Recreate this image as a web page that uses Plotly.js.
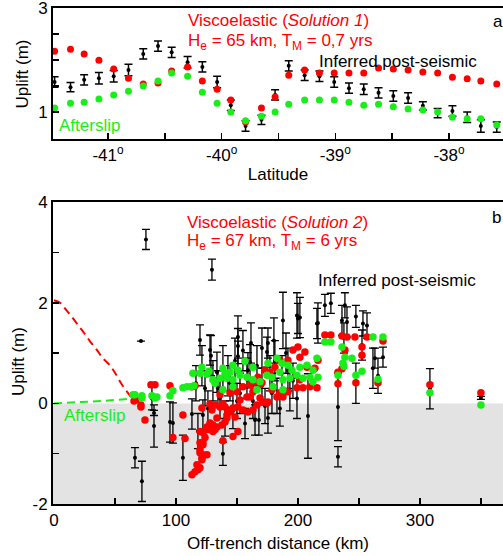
<!DOCTYPE html>
<html>
<head>
<meta charset="utf-8">
<script src="https://cdn.plot.ly/plotly-3.0.1.min.js"></script>
<style>
  html, body { margin: 0; padding: 0; background: #fff; }
  #chart { width: 503px; height: 556px; }
</style>
</head>
<body>
<div id="chart"></div>
<script>
// ---- Panel a: uplift along the coast versus latitude ----
const latitude = [-41.47,-41.33,-41.21,-41.08,-40.95,-40.82,-40.69,-40.56,-40.44,-40.30,-40.17,-40.04,-39.92,-39.79,-39.65,-39.53,-39.41,-39.27,-39.14,-39.01,-38.88,-38.75,-38.62,-38.49,-38.36,-38.23,-38.10,-37.97,-37.84,-37.72,-37.58];
const viscoA    = [2.17,2.21,2.12,2.00,1.83,1.65,1.54,1.56,1.79,1.87,1.60,1.44,1.23,0.81,1.08,1.29,1.71,1.81,1.75,1.75,1.75,1.75,1.85,1.83,1.81,1.77,1.75,1.67,1.64,1.60,1.54];
const observedA = [1.58,1.48,1.62,1.65,1.69,1.81,2.12,2.27,2.15,1.96,1.87,1.58,1.13,0.73,0.85,1.33,1.89,1.71,1.69,1.58,1.46,1.44,1.37,1.31,1.27,1.12,0.98,1.02,0.90,0.73,0.71];
const errA      = [0.10,0.09,0.10,0.11,0.11,0.11,0.10,0.10,0.10,0.11,0.10,0.11,0.10,0.10,0.09,0.10,0.10,0.10,0.10,0.10,0.10,0.10,0.10,0.10,0.10,0.08,0.09,0.10,0.10,0.12,0.10];
const afterslipA= [1.08,1.17,1.19,1.25,1.33,1.40,1.50,1.60,1.75,1.69,1.38,1.17,1.00,0.83,0.92,1.00,1.15,1.23,1.23,1.23,1.19,1.13,1.15,1.10,1.06,1.04,1.00,0.90,0.87,0.87,0.75];
const latTickVals = [-41,-40,-39,-38];
const latTickText = ['-41<sup>o</sup>','-40<sup>o</sup>','-39<sup>o</sup>','-38<sup>o</sup>'];
const upliftTickValsA = [1,3];
const upliftTickTextA = ['1','3'];

// ---- Panel b: uplift versus off-trench distance ----
const obsDist = [75.4,129.5,71.3,66.4,72.1,82.0,82.0,80.3,95.1,97.5,105.7,113.1,138.5,208.2,232.8,232.8,247.5,261.5,263.1,269.7,265.6,308.2,350.0,
  187.7,216.4,222.1,227.0,236.1,238.5,240.2,237.7,247.5,253.3,256.6,252.5,201.6,200.0,
  150.8,150.8,150.8,127.9,175.4,174.6,199.2,215.6,119.7,133.6,160.7,159.0,
  123.8,126.2,130.3,136.1,140.2,142.6,146.7,148.4,152.5,156.6,158.2,163.1,164.8,166.4,168.0,170.5,173.0,175.4,177.0,178.7,181.1,182.8,185.2,186.9,191.8,193.4,195.9,199.2,122.1,116.4,118.0,121.3,128.7,134.4,138.5,144.3,150.0,154.9,161.5,170.5,180.3,190.2];
const obsUplift = [3.26,2.66,1.24,-1.08,-1.55,-0.45,-0.19,0.10,-0.37,-0.39,-1.08,-0.21,-1.00,-0.25,-0.07,-1.06,0.40,0.70,0.90,0.92,0.55,0.29,0.11,
  1.65,1.60,1.95,1.99,1.65,1.95,1.62,1.30,1.73,1.59,1.55,1.16,1.71,1.69,
  1.32,1.14,0.94,1.06,1.20,1.02,1.75,1.59,1.26,0.62,0.82,0.66,
  0.30,-0.10,0.45,0.10,-0.30,0.55,-0.15,0.85,0.20,-0.40,0.50,0.05,-0.33,0.75,-0.33,0.35,-0.05,-0.29,0.60,0.20,0.85,0.15,-0.10,0.60,0.70,0.25,0.45,0.10,-0.23,0.40,-0.55,0.75,0.95,0.30,0.70,0.40,0.05,1.05,1.20,1.10,1.25,1.00];
const obsErr = [0.20,0.21,0.00,0.20,0.40,0.42,0.05,0.23,0.40,0.40,0.45,0.30,0.23,0.84,0.67,0.20,0.40,0.40,0.20,0.20,0.35,0.40,0.03,
  0.56,0.40,0.22,0.20,0.30,0.25,0.30,0.30,0.22,0.25,0.25,0.30,0.40,0.30,
  0.42,0.35,0.30,0.30,0.30,0.30,0.45,0.30,0.30,0.40,0.35,0.35,
  0.35,0.35,0.40,0.40,0.35,0.40,0.35,0.45,0.40,0.30,0.40,0.35,0.30,0.40,0.30,0.35,0.35,0.30,0.35,0.40,0.40,0.35,0.35,0.35,0.40,0.40,0.35,0.40,0.30,0.35,0.35,0.40,0.40,0.35,0.45,0.35,0.35,0.40,0.40,0.40,0.45,0.40];

const viscoDist = [79.5,82.8,95.1,65.6,67.2,71.3,71.3,74.6,97.5,107.4,113.1,115.6,127.9,121.3,
  113.1,115.6,118.0,117.2,121.3,119.7,122.1,125.4,119.7,122.1,119.7,122.1,126.2,129.5,132.0,133.6,137.7,140.2,141.8,140.2,144.3,136.1,132.0,129.5,138.5,105.7,
  138.5,142.6,146.7,150.8,154.9,159.0,163.1,148.4,141.8,133.6,130.3,127.9,125.4,130.3,126.2,123.8,122.1,119.7,121.3,119.7,146.7,150.8,171.3,175.4,166.4,152.5,158.2,163.1,168.9,
  195.9,200.0,201.6,205.7,191.8,185.2,181.1,177.0,173.0,167.2,170.5,164.8,160.7,154.9,178.7,185.2,191.8,199.2,204.1,209.8,215.6,201.6,207.4,213.9,216.4,150.0,144.3,136.1,160.7,168.9,174.6,182.8,187.7,
  222.1,227.0,236.1,240.2,246.7,256.6,269.7,238.5,252.5,252.5,236.1,232.8,232.8,247.5,265.6,308.2,350.0];
const viscoB = [0.37,0.37,0.35,0.05,0.07,-0.03,-0.07,-0.33,-0.68,-0.70,0.33,0.35,-0.01,-0.09,
  -1.42,-1.36,-1.32,-1.22,-1.12,-0.98,-1.02,-1.02,-0.78,-0.78,-0.56,-0.58,-0.49,-0.43,-0.52,-0.47,-0.43,-0.37,-0.23,-0.07,-0.17,-0.07,-0.03,-0.13,-0.74,-0.23,
  -0.01,-0.13,-0.09,-0.07,-0.13,-0.17,-0.13,-0.27,-0.29,-0.29,-0.43,-0.39,-0.47,-0.56,-0.52,-0.68,-0.82,-0.92,-1.08,-1.28,-0.66,-0.56,0.03,0.03,-0.03,0.07,0.13,0.23,0.37,
  1.06,1.12,0.92,1.02,0.86,0.86,0.72,0.62,0.66,0.52,0.41,0.43,0.37,0.33,0.27,0.21,0.23,0.31,0.31,0.33,0.31,0.47,0.72,0.70,0.86,0.23,0.21,0.17,0.13,0.11,0.01,0.13,0.13,
  1.36,1.36,1.34,1.32,1.32,1.32,1.24,1.06,1.12,0.96,0.69,0.62,0.39,0.41,0.41,0.37,0.21];

const afterDist = [64.8,66.4,72.1,72.1,80.3,82.8,84.4,95.1,97.5,105.7,109.0,112.3,114.8,113.9,119.7,121.3,125.4,127.0,132.0,138.5,140.2,144.3,146.7,150.8,156.6,163.1,175.4,182.8,186.9,191.8,195.1,201.6,207.4,212.3,215.6,216.4,
  130.3,136.1,141.8,146.7,152.5,158.2,163.1,168.9,174.6,178.7,185.2,187.7,193.4,199.2,204.1,209.8,212.3,138.5,146.7,166.4,179.5,187.7,
  222.1,227.0,261.5,269.7,236.1,238.5,244.3,236.9,237.7,232.8,247.5,252.5,265.6,308.2,350.0];
const afterB = [0.17,0.17,0.15,0.11,0.15,0.11,0.13,0.15,0.25,0.31,0.33,0.33,0.35,0.60,0.60,0.72,0.58,0.64,0.40,0.70,0.60,0.62,0.76,0.66,0.84,0.72,0.80,0.90,0.80,0.76,0.66,0.72,0.76,0.66,0.90,0.52,
  0.47,0.50,0.50,0.47,0.56,0.52,0.47,0.43,0.56,0.52,0.62,0.47,0.50,0.56,0.50,0.52,0.43,0.27,0.33,0.27,0.33,0.27,
  1.22,1.22,1.32,1.32,1.12,0.92,0.90,0.80,0.74,0.56,0.56,0.64,0.48,0.21,-0.03];

// model curves seaward of the coast
const viscoCurveDist = [0,5,10,15,20,25,30,35,40,45,50,55,60,66];
const viscoCurve     = [2.05,2.00,1.86,1.71,1.55,1.39,1.22,1.07,0.90,0.78,0.61,0.40,0.23,0.03];
const afterCurveDist = [0,20,40,62];
const afterCurve     = [0.00,0.02,0.05,0.09];

const distTickVals = [0,100,200,300];
const distTickText = ['0','100','200','300'];
const upliftTickValsB = [-2,0,2,4];
const upliftTickTextB = ['-2','0','2','4'];

const RED = '#ff0000';
const GREEN = '#1aee1a';
const FONT = 'Liberation Sans, Arial, Helvetica, sans-serif';

const traces = [
  // panel a
  {x: latitude, y: observedA, xaxis: 'x', yaxis: 'y', type: 'scatter', mode: 'markers',
   marker: {color: 'black', size: 4},
   error_y: {type: 'data', array: errA, color: 'black', thickness: 1.5, width: 4}},
  {x: latitude, y: viscoA, xaxis: 'x', yaxis: 'y', type: 'scatter', mode: 'markers',
   marker: {color: RED, size: 7}},
  {x: latitude, y: afterslipA, xaxis: 'x', yaxis: 'y', type: 'scatter', mode: 'markers',
   marker: {color: GREEN, size: 7}},
  // panel b
  {x: viscoCurveDist, y: viscoCurve, xaxis: 'x2', yaxis: 'y2', type: 'scatter', mode: 'lines',
   line: {color: RED, width: 2, dash: '8px,5px', shape: 'spline'}},
  {x: afterCurveDist, y: afterCurve, xaxis: 'x2', yaxis: 'y2', type: 'scatter', mode: 'lines',
   line: {color: GREEN, width: 2, dash: '8px,5px'}},
  {x: obsDist, y: obsUplift, xaxis: 'x2', yaxis: 'y2', type: 'scatter', mode: 'markers',
   marker: {color: 'black', size: 4},
   error_y: {type: 'data', array: obsErr, color: 'black', thickness: 1.3, width: 4}},
  {x: viscoDist, y: viscoB, xaxis: 'x2', yaxis: 'y2', type: 'scatter', mode: 'markers',
   marker: {color: RED, size: 7.5}},
  {x: afterDist, y: afterB, xaxis: 'x2', yaxis: 'y2', type: 'scatter', mode: 'markers',
   marker: {color: GREEN, size: 7.5}}
];

const axisCommon = {
  showgrid: false, zeroline: false, showline: true, linecolor: 'black', linewidth: 2,
  ticks: 'inside', ticklen: 6, tickwidth: 1.5, tickcolor: 'black', ticklabeloverflow: 'allow',
  tickfont: {family: FONT, size: 17, color: 'black'}, tickmode: 'array', fixedrange: true
};
const minorCommon = {ticks: 'inside', ticklen: 6, tickwidth: 1.5, tickcolor: 'black', showgrid: false};

const layout = {
  width: 503, height: 556,
  margin: {l: 53, r: 0, t: 8, b: 52},
  paper_bgcolor: 'white', plot_bgcolor: 'white',
  showlegend: false,
  font: {family: FONT, size: 17, color: 'black'},
  xaxis: Object.assign({}, axisCommon, {
    domain: [0, 1], anchor: 'y', range: [-41.484, -37.525], mirror: true,
    tickvals: latTickVals, ticktext: latTickText,
    minor: Object.assign({tickmode: 'linear', tick0: -41, dtick: 0.5}, minorCommon),
    title: {text: 'Latitude', font: {family: FONT, size: 17}, standoff: 4}
  }),
  yaxis: Object.assign({}, axisCommon, {
    domain: [0.7359, 1], anchor: 'x', range: [0.481, 3.004],
    tickvals: upliftTickValsA, ticktext: upliftTickTextA,
    minor: Object.assign({tickmode: 'linear', tick0: 1, dtick: 0.5}, minorCommon)
  }),
  xaxis2: Object.assign({}, axisCommon, {
    domain: [0, 1], anchor: 'y2', range: [-0.8, 368.1], mirror: true,
    tickvals: distTickVals, ticktext: distTickText,
    minor: Object.assign({tickmode: 'linear', tick0: 0, dtick: 50}, minorCommon),
    title: {text: 'Off-trench distance (km)', font: {family: FONT, size: 17}, standoff: 8}
  }),
  yaxis2: Object.assign({}, axisCommon, {
    domain: [0, 0.6089], anchor: 'x2', range: [-2, 4.005],
    tickvals: upliftTickValsB, ticktext: upliftTickTextB,
    minor: Object.assign({tickmode: 'linear', tick0: 0, dtick: 1}, minorCommon)
  }),
  shapes: [
    // shaded subsidence zone
    {type: 'rect', xref: 'x2 domain', yref: 'y2', x0: 0, x1: 1, y0: -2, y1: 0,
     fillcolor: '#e3e3e3', line: {width: 0}, layer: 'below'}
  ],
  annotations: [
    // vertical axis titles
    {xref: 'paper', yref: 'paper', x: -0.0689, y: 0.868, xanchor: 'center', yanchor: 'middle', showarrow: false,
     textangle: -90, text: 'Uplift (m)', font: {family: FONT, size: 17, color: 'black'}},
    {xref: 'paper', yref: 'paper', x: -0.0778, y: 0.2883, xanchor: 'center', yanchor: 'middle', showarrow: false,
     textangle: -90, text: 'Uplift (m)', font: {family: FONT, size: 17, color: 'black'}},
    // panel a labels
    {xref: 'paper', yref: 'paper', x: 0.2956, y: 0.9758, xanchor: 'left', yanchor: 'middle', showarrow: false,
     text: 'Viscoelastic (<i>Solution 1</i>)', font: {family: FONT, size: 17, color: RED}},
    {xref: 'paper', yref: 'paper', x: 0.2956, y: 0.9315, xanchor: 'left', yanchor: 'middle', showarrow: false,
     text: 'H<sub>e</sub> = 65 km, T<sub>M</sub> = 0,7 yrs', font: {family: FONT, size: 17, color: RED}},
    {xref: 'paper', yref: 'paper', x: 0.5867, y: 0.8931, xanchor: 'left', yanchor: 'middle', showarrow: false,
     text: 'Inferred post-seismic', font: {family: FONT, size: 17, color: 'black'}},
    {xref: 'paper', yref: 'paper', x: 0.974, y: 0.9718, xanchor: 'left', yanchor: 'middle', showarrow: false,
     text: 'a', font: {family: FONT, size: 17, color: 'black'}},
    {xref: 'paper', yref: 'paper', x: 0.0089, y: 0.7641, xanchor: 'left', yanchor: 'middle', showarrow: false,
     text: 'Afterslip', font: {family: FONT, size: 17, color: GREEN}},
    // panel b labels
    {xref: 'paper', yref: 'paper', x: 0.2933, y: 0.5685, xanchor: 'left', yanchor: 'middle', showarrow: false,
     text: 'Viscoelastic (<i>Solution 2</i>)', font: {family: FONT, size: 17, color: RED}},
    {xref: 'paper', yref: 'paper', x: 0.2933, y: 0.5282, xanchor: 'left', yanchor: 'middle', showarrow: false,
     text: 'H<sub>e</sub> = 67 km, T<sub>M</sub> = 6 yrs', font: {family: FONT, size: 17, color: RED}},
    {xref: 'paper', yref: 'paper', x: 0.5844, y: 0.4496, xanchor: 'left', yanchor: 'middle', showarrow: false,
     text: 'Inferred post-seismic', font: {family: FONT, size: 17, color: 'black'}},
    {xref: 'paper', yref: 'paper', x: 0.972, y: 0.5786, xanchor: 'left', yanchor: 'middle', showarrow: false,
     text: 'b', font: {family: FONT, size: 17, color: 'black'}},
    {xref: 'paper', yref: 'paper', x: 0.02, y: 0.1794, xanchor: 'left', yanchor: 'middle', showarrow: false,
     text: 'Afterslip', font: {family: FONT, size: 17, color: GREEN}}
  ]
};

Plotly.newPlot('chart', traces, layout, {staticPlot: true, displayModeBar: false});
</script>
</body>
</html>
